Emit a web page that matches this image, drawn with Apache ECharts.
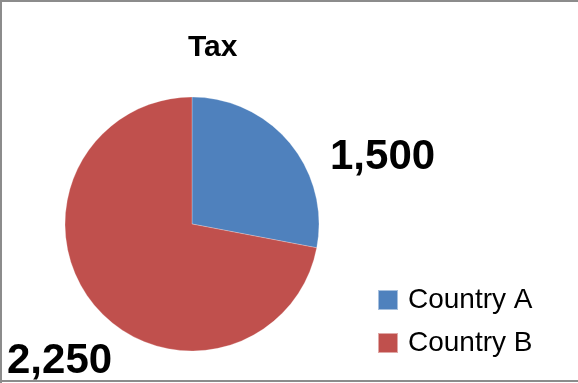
<!DOCTYPE html>
<html>
<head>
<meta charset="utf-8">
<script src="https://cdn.jsdelivr.net/npm/echarts@6/dist/echarts.min.js"></script>
<style>html,body{margin:0;padding:0;background:#fff}#c{width:578px;height:383px}</style>
</head>
<body>
<div id="c"></div>
<script>
const chartTitle = 'Tax';
const categories = ['Country A', 'Country B'];
// slice sizes as drawn in the picture (blue ≈ 100.8°)
const values = [1500, 3857];
// data label texts as printed on the chart
const labelTexts = ['1,500', '2,250'];
const colors = ['#4F81BD', '#C0504D'];
const labelPos = [[330, 157], [7, 361]];

const chart = echarts.init(document.getElementById('c'), null, {renderer: 'canvas'});
chart.setOption({
  animation: false,
  backgroundColor: '#fff',
  title: {
    text: chartTitle, left: 183, top: 28,
    textStyle: {fontFamily: 'Liberation Sans', fontWeight: 'bold', fontSize: 30, color: '#000'}
  },
  legend: {
    orient: 'vertical', left: 377, top: 286, padding: 0,
    itemWidth: 20, itemHeight: 20, itemGap: 15, icon: 'rect',
    data: categories,
    textStyle: {fontFamily: 'Liberation Sans', fontSize: 28, lineHeight: 20, color: '#000', padding: [0, 0, 0, 5]}
  },
  graphic: [
    {type: 'rect', shape: {x: 0, y: 0, width: 578, height: 2}, style: {fill: '#8c8c8c'}, silent: true},
    {type: 'rect', shape: {x: 0, y: 0, width: 2, height: 383}, style: {fill: '#8c8c8c'}, silent: true},
    {type: 'rect', shape: {x: 0, y: 380, width: 578, height: 2}, style: {fill: '#8c8c8c'}, silent: true}
  ],
  series: [{
    type: 'pie',
    center: [192, 224],
    radius: 127,
    startAngle: 90,
    clockwise: true,
    itemStyle: {borderColor: 'rgba(255,255,255,0.5)', borderWidth: 0.5},
    label: {
      show: true,
      position: 'outside',
      overflow: 'none',
      width: 300,
      formatter: p => labelTexts[p.dataIndex],
      fontFamily: 'Liberation Sans', fontWeight: 'bold', fontSize: 42, color: '#000'
    },
    labelLine: {show: false},
    labelLayout: p => ({x: labelPos[p.dataIndex][0], y: labelPos[p.dataIndex][1], align: 'left', verticalAlign: 'middle', width: 300}),
    data: categories.map((c, i) => ({name: c, value: values[i], itemStyle: {color: colors[i]}}))
  }]
});
</script>
</body>
</html>
